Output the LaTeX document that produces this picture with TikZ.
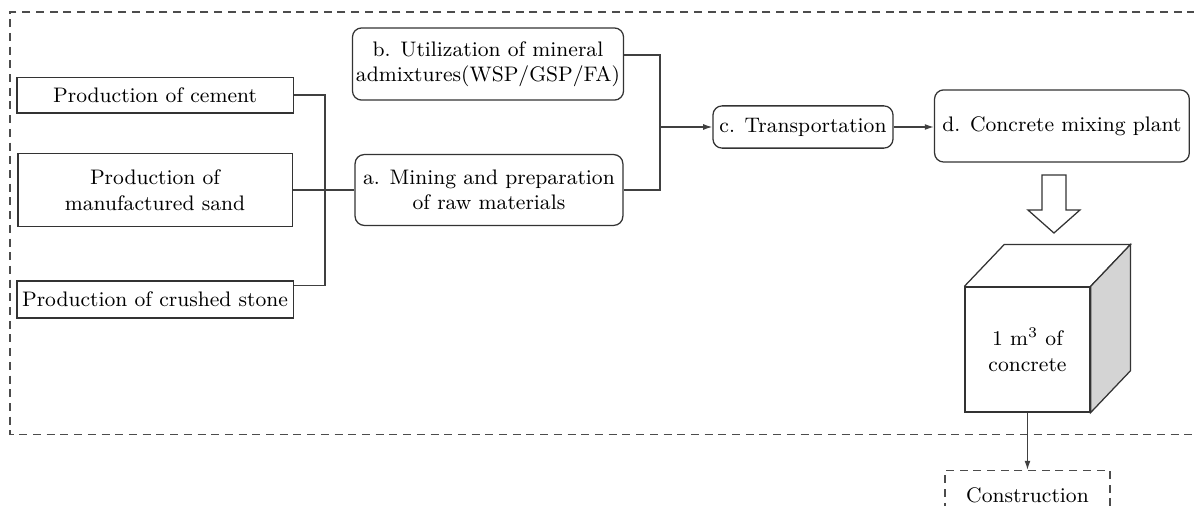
\documentclass[tikz,border=0pt]{standalone}
\usetikzlibrary{arrows.meta}

\begin{document}
\begin{tikzpicture}[
    font=\fontsize{9.2}{11.2}\selectfont,
    line width=0.55pt,
    box/.style={rectangle, draw=black!80, align=center, inner sep=1.5pt, fill=white},
    rbox/.style={box, rounded corners=4pt},
    frame/.style={draw=black!70, dash pattern=on 3.5pt off 2.5pt},
    link/.style={draw=black!75},
    arrow/.style={link, -{Latex[length=4pt,width=2.6pt]}}
]
\useasboundingbox (0,0) rectangle (18.37,-7.77);
\clip (0,0) rectangle (18.37,-7.77);

% Outer dashed frame (open to the right)
\draw[frame] (18.6,-0.185) -| (0.154,-6.69) -- (18.6,-6.69);

% Left column - production of raw materials
\node[box, minimum width=4.25cm, minimum height=0.55cm] (cement) at (2.385,-1.462) {Production of cement};
\node[box, minimum width=4.22cm, minimum height=1.12cm] (sand) at (2.385,-2.923) {Production of\\manufactured sand};
\node[box, minimum width=4.25cm, minimum height=0.57cm] (stone) at (2.385,-4.608) {Production of crushed stone};

% Middle column
\node[rbox, minimum width=4.17cm, minimum height=1.11cm] (admix) at (7.508,-0.985) {b. Utilization of mineral\\admixtures(WSP/GSP/FA)};
\node[rbox, minimum width=4.12cm, minimum height=1.09cm] (mining) at (7.523,-2.923) {a. Mining and preparation\\of raw materials};

% Right column
\node[rbox, minimum width=2.77cm, minimum height=0.65cm] (transport) at (12.354,-1.954) {c. Transportation};
\node[rbox, minimum width=3.92cm, minimum height=1.11cm] (plant) at (16.338,-1.938) {d. Concrete mixing plant};

% Junctions
\coordinate (jl) at (5.0,-2.923);
\coordinate (jr) at (10.154,-1.954);

\draw[link] (cement.east) -| (jl);
\draw[link] ([yshift=6pt]stone.east) -| (jl);
\draw[link] (sand.east) -- (mining.west);
\draw[link] ([yshift=4pt]admix.east) -| (jr);
\draw[link] (mining.east) -| (jr);
\draw[arrow] (jr) -- (transport.west);
\draw[arrow] (transport.east) -- (transport.east -| plant.west);

% Hollow arrow down to the cube
\draw[draw=black!80, fill=white] (16.03,-2.692) -- (16.40,-2.692) -- (16.40,-3.231) -- (16.615,-3.231)
    -- (16.215,-3.585) -- (15.815,-3.231) -- (16.03,-3.231) -- cycle;

% Cube of concrete
\node[box, minimum size=1.923cm, inner sep=0pt] (cube) at (15.808,-5.377) {1 m\textsuperscript{3} of\\concrete};
\draw[draw=black!80] (cube.north west) -- ++(0.615,0.646) -- ([shift={(0.615,0.646)}]cube.north east) -- (cube.north east);
\draw[draw=black!80, fill=black!17] (cube.north east) -- ++(0.615,0.646) -- ([shift={(0.615,0.646)}]cube.south east)
    -- (cube.south east) -- cycle;

% Construction (outside the frame)
\node[box, frame, minimum width=2.54cm, minimum height=0.75cm, anchor=north] (build) at (15.808,-7.23) {Construction};
\draw[arrow] (cube.south) -- (build.north);

\end{tikzpicture}
\end{document}
